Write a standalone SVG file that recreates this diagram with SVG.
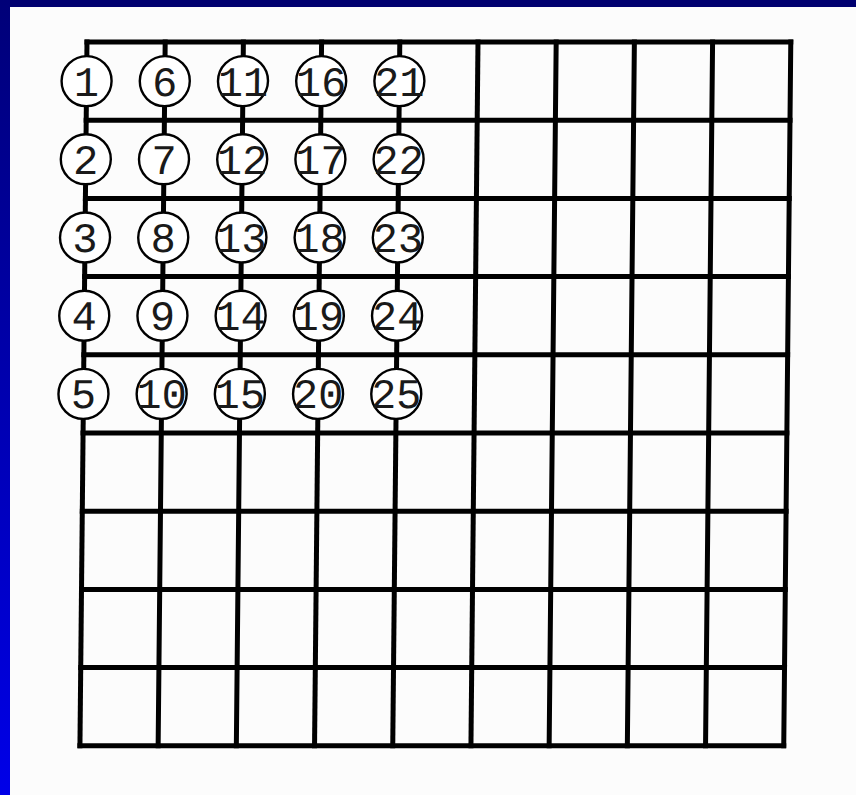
<svg xmlns="http://www.w3.org/2000/svg" width="856" height="795" viewBox="0 0 856 795">
<defs>
<linearGradient id="side" x1="0" y1="0" x2="0" y2="1">
<stop offset="0" stop-color="#000078"/>
<stop offset="1" stop-color="#0000e8"/>
</linearGradient>
<style>
.g{stroke:#000;stroke-width:5;stroke-linecap:square;fill:none}
.c{fill:#fff;stroke:#000;stroke-width:2.4}
.t{font-family:"Liberation Mono","Courier New",monospace;font-size:42px;fill:#1a1a1a;text-anchor:middle}
</style>
</defs>
<rect x="0" y="0" width="856" height="795" fill="#fcfcfc"/>
<rect x="0" y="0" width="856" height="7" fill="#000070"/>
<rect x="0" y="0" width="10" height="795" fill="url(#side)"/>
<g transform="skewX(-0.573)">
<g id="connectors" class="g">
<line x1="87.4" y1="42" x2="791.2" y2="42"/>
<line x1="87.4" y1="120.2" x2="791.2" y2="120.2"/>
<line x1="87.4" y1="198.4" x2="791.2" y2="198.4"/>
<line x1="87.4" y1="276.6" x2="791.2" y2="276.6"/>
<line x1="87.4" y1="354.8" x2="791.2" y2="354.8"/>
<line x1="87.4" y1="433" x2="791.2" y2="433"/>
<line x1="87.4" y1="511.2" x2="791.2" y2="511.2"/>
<line x1="87.4" y1="589.4" x2="791.2" y2="589.4"/>
<line x1="87.4" y1="667.6" x2="791.2" y2="667.6"/>
<line x1="87.4" y1="745.8" x2="791.2" y2="745.8"/>
<line x1="87.4" y1="42" x2="87.4" y2="745.8"/>
<line x1="165.6" y1="42" x2="165.6" y2="745.8"/>
<line x1="243.8" y1="42" x2="243.8" y2="745.8"/>
<line x1="322" y1="42" x2="322" y2="745.8"/>
<line x1="400.2" y1="42" x2="400.2" y2="745.8"/>
<line x1="478.4" y1="42" x2="478.4" y2="745.8"/>
<line x1="556.6" y1="42" x2="556.6" y2="745.8"/>
<line x1="634.8" y1="42" x2="634.8" y2="745.8"/>
<line x1="713" y1="42" x2="713" y2="745.8"/>
<line x1="791.2" y1="42" x2="791.2" y2="745.8"/>
</g>
<g id="n1"><circle class="c" cx="87.4" cy="81.1" r="25"/><text class="t" x="87.4" y="95.6">1</text></g>
<g id="n2"><circle class="c" cx="87.4" cy="159.3" r="25"/><text class="t" x="87.4" y="173.8">2</text></g>
<g id="n3"><circle class="c" cx="87.4" cy="237.5" r="25"/><text class="t" x="87.4" y="252">3</text></g>
<g id="n4"><circle class="c" cx="87.4" cy="315.7" r="25"/><text class="t" x="87.4" y="330.2">4</text></g>
<g id="n5"><circle class="c" cx="87.4" cy="393.9" r="25"/><text class="t" x="87.4" y="408.4">5</text></g>
<g id="n6"><circle class="c" cx="165.6" cy="81.1" r="25"/><text class="t" x="165.6" y="95.6">6</text></g>
<g id="n7"><circle class="c" cx="165.6" cy="159.3" r="25"/><text class="t" x="165.6" y="173.8">7</text></g>
<g id="n8"><circle class="c" cx="165.6" cy="237.5" r="25"/><text class="t" x="165.6" y="252">8</text></g>
<g id="n9"><circle class="c" cx="165.6" cy="315.7" r="25"/><text class="t" x="165.6" y="330.2">9</text></g>
<g id="n10"><circle class="c" cx="165.6" cy="393.9" r="25"/><text class="t" x="165.6" y="408.4">10</text></g>
<g id="n11"><circle class="c" cx="243.8" cy="81.1" r="25"/><text class="t" x="243.8" y="95.6">11</text></g>
<g id="n12"><circle class="c" cx="243.8" cy="159.3" r="25"/><text class="t" x="243.8" y="173.8">12</text></g>
<g id="n13"><circle class="c" cx="243.8" cy="237.5" r="25"/><text class="t" x="243.8" y="252">13</text></g>
<g id="n14"><circle class="c" cx="243.8" cy="315.7" r="25"/><text class="t" x="243.8" y="330.2">14</text></g>
<g id="n15"><circle class="c" cx="243.8" cy="393.9" r="25"/><text class="t" x="243.8" y="408.4">15</text></g>
<g id="n16"><circle class="c" cx="322" cy="81.1" r="25"/><text class="t" x="322" y="95.6">16</text></g>
<g id="n17"><circle class="c" cx="322" cy="159.3" r="25"/><text class="t" x="322" y="173.8">17</text></g>
<g id="n18"><circle class="c" cx="322" cy="237.5" r="25"/><text class="t" x="322" y="252">18</text></g>
<g id="n19"><circle class="c" cx="322" cy="315.7" r="25"/><text class="t" x="322" y="330.2">19</text></g>
<g id="n20"><circle class="c" cx="322" cy="393.9" r="25"/><text class="t" x="322" y="408.4">20</text></g>
<g id="n21"><circle class="c" cx="400.2" cy="81.1" r="25"/><text class="t" x="400.2" y="95.6">21</text></g>
<g id="n22"><circle class="c" cx="400.2" cy="159.3" r="25"/><text class="t" x="400.2" y="173.8">22</text></g>
<g id="n23"><circle class="c" cx="400.2" cy="237.5" r="25"/><text class="t" x="400.2" y="252">23</text></g>
<g id="n24"><circle class="c" cx="400.2" cy="315.7" r="25"/><text class="t" x="400.2" y="330.2">24</text></g>
<g id="n25"><circle class="c" cx="400.2" cy="393.9" r="25"/><text class="t" x="400.2" y="408.4">25</text></g>
</g>
</svg>
